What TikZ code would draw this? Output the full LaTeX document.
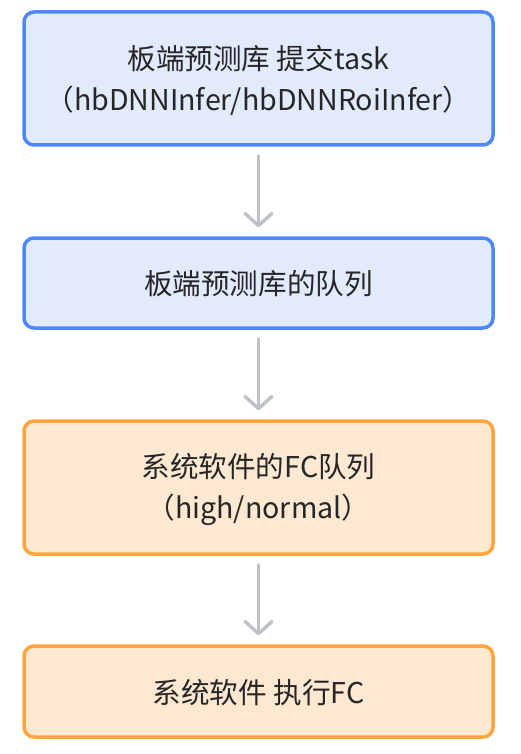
\documentclass[tikz,border=0pt]{standalone}
\usepackage{fontspec}
\setmainfont{Noto Sans CJK SC}
\usetikzlibrary{arrows.meta}
\definecolor{bluefill}{HTML}{E2EAFD}
\definecolor{blueline}{HTML}{4F87F6}
\definecolor{orangefill}{HTML}{FDE8D1}
\definecolor{orangeline}{HTML}{FFA53C}
\definecolor{txt}{HTML}{262626}
\definecolor{arrowgray}{HTML}{BFC2C8}
\tikzset{
  box/.style={rounded corners=10pt, line width=3.5pt, minimum width=469pt, align=center,
    text=txt, font=\fontsize{28.6}{41}\selectfont, inner sep=0pt},
  bluebox/.style={box, draw=blueline, fill=bluefill},
  orangebox/.style={box, draw=orangeline, fill=orangefill},
  flow/.style={draw=arrowgray, line width=3.5pt, line cap=round,
    -{Straight Barb[length=12pt,width=27pt,line width=3.5pt,round]}}
}
\begin{document}
\begin{tikzpicture}[x=1pt,y=-1pt]
\useasboundingbox (0,0) rectangle (521,754);
\node[bluebox, minimum height=133pt] (a) at (258.5,78.5) {};
\node[bluebox, minimum height=90pt] (b) at (258.5,283) {};
\node[orangebox, minimum height=133pt] (c) at (258.5,487.5) {};
\node[orangebox, minimum height=91pt] (d) at (258.5,691.5) {};
\node[box, draw=none, fill=none] (at) at ([yshift=-2pt]a.center) {板端预测库 提交task\\（hbDNNInfer/hbDNNRoiInfer）};
\node[box, draw=none, fill=none] (bt) at ([yshift=-1pt]b.center) {板端预测库的队列};
\node[box, draw=none, fill=none] (ct) at ([yshift=-2pt]c.center) {系统软件的FC队列\\（high/normal）};
\node[box, draw=none, fill=none] (dt) at ([yshift=-1pt]d.center) {系统软件 执行FC};
\draw[flow] ([yshift=-9pt]a.south) -- ([yshift=9pt]b.north);
\draw[flow] ([yshift=-9pt]b.south) -- ([yshift=9pt]c.north);
\draw[flow] ([yshift=-9pt]c.south) -- ([yshift=9pt]d.north);
\end{tikzpicture}
\end{document}
